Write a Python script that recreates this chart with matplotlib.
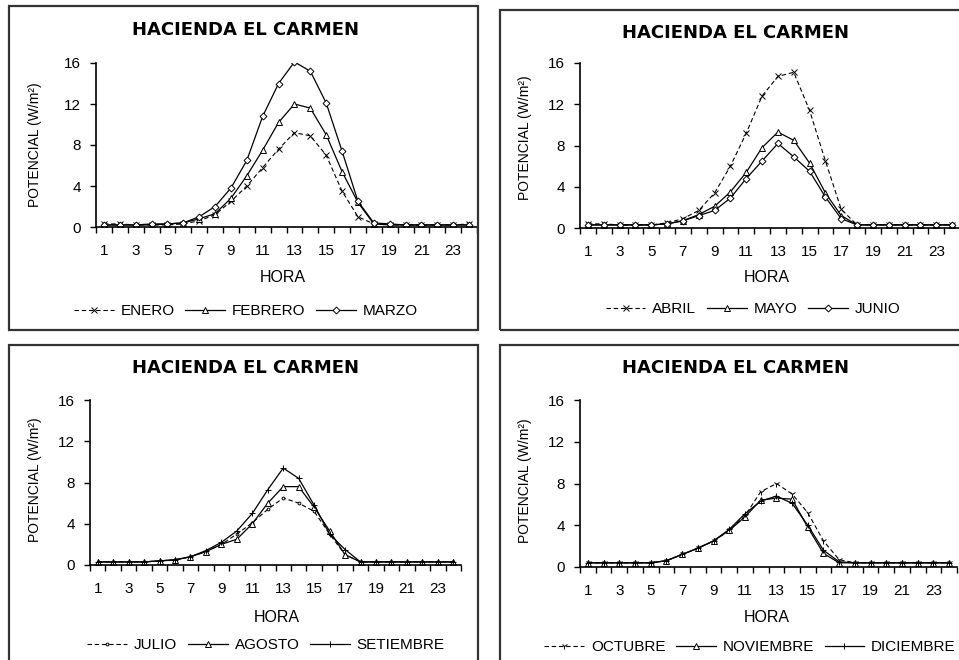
import matplotlib
matplotlib.use('Agg')
import matplotlib.pyplot as plt
from matplotlib.patches import Rectangle

plt.rcParams['font.family'] = ['Liberation Sans', 'DejaVu Sans']

# ---------------- data ----------------
HORAS = list(range(1, 25))
XTICK_LABELS = [str(h) for h in range(1, 24, 2)]
YTICKS = [0, 4, 8, 12, 16]
TITLE = 'HACIENDA EL CARMEN'
XLABEL = 'HORA'
YLABEL = 'POTENCIAL (W/m²)'

ENERO = [0.3, 0.3, 0.2, 0.2, 0.2, 0.3, 0.6, 1.2, 2.5, 4.0, 5.8, 7.6, 9.2, 8.9, 7.0, 3.5, 1.0, 0.3, 0.2, 0.2, 0.2, 0.2, 0.2, 0.3]
FEBRERO = [0.2, 0.2, 0.2, 0.2, 0.3, 0.4, 0.8, 1.3, 2.8, 5.0, 7.5, 10.2, 12.0, 11.6, 9.0, 5.4, 2.4, 0.3, 0.2, 0.2, 0.2, 0.2, 0.2, 0.2]
MARZO = [0.2, 0.2, 0.2, 0.3, 0.3, 0.4, 1.0, 2.0, 3.8, 6.5, 10.8, 14.0, 16.1, 15.2, 12.1, 7.4, 2.5, 0.4, 0.3, 0.2, 0.2, 0.2, 0.2, 0.2]

ABRIL = [0.4, 0.4, 0.3, 0.3, 0.3, 0.5, 0.9, 1.7, 3.4, 6.0, 9.2, 12.8, 14.7, 15.1, 11.4, 6.5, 1.8, 0.3, 0.3, 0.3, 0.3, 0.3, 0.3, 0.3]
MAYO = [0.3, 0.3, 0.3, 0.3, 0.3, 0.4, 0.7, 1.3, 2.1, 3.5, 5.4, 7.8, 9.3, 8.5, 6.3, 3.4, 1.2, 0.3, 0.3, 0.3, 0.3, 0.3, 0.3, 0.3]
JUNIO = [0.3, 0.3, 0.3, 0.3, 0.3, 0.4, 0.7, 1.2, 1.7, 2.9, 4.8, 6.5, 8.2, 6.9, 5.5, 3.0, 0.9, 0.3, 0.3, 0.3, 0.3, 0.3, 0.3, 0.3]

JULIO = [0.3, 0.3, 0.3, 0.3, 0.4, 0.5, 0.8, 1.3, 2.0, 3.0, 4.1, 5.4, 6.5, 6.0, 5.2, 3.0, 1.0, 0.3, 0.3, 0.3, 0.3, 0.3, 0.3, 0.3]
AGOSTO = [0.3, 0.3, 0.3, 0.3, 0.4, 0.5, 0.8, 1.3, 2.0, 2.5, 4.0, 6.0, 7.6, 7.6, 5.6, 3.3, 1.0, 0.3, 0.3, 0.3, 0.3, 0.3, 0.3, 0.3]
SETIEMBRE = [0.3, 0.3, 0.3, 0.3, 0.4, 0.5, 0.8, 1.4, 2.2, 3.3, 5.0, 7.3, 9.4, 8.4, 5.8, 3.0, 1.5, 0.3, 0.3, 0.3, 0.3, 0.3, 0.3, 0.3]

OCTUBRE = [0.4, 0.4, 0.4, 0.4, 0.4, 0.6, 1.2, 1.8, 2.5, 3.5, 4.9, 7.2, 8.0, 7.0, 5.2, 2.5, 0.7, 0.4, 0.4, 0.4, 0.4, 0.4, 0.4, 0.4]
NOVIEMBRE = [0.4, 0.4, 0.4, 0.4, 0.4, 0.6, 1.2, 1.8, 2.5, 3.5, 4.8, 6.4, 6.6, 6.5, 3.8, 1.3, 0.4, 0.4, 0.4, 0.4, 0.4, 0.4, 0.4, 0.4]
DICIEMBRE = [0.4, 0.4, 0.4, 0.4, 0.4, 0.6, 1.2, 1.8, 2.5, 3.6, 5.1, 6.3, 6.8, 6.1, 4.0, 1.6, 0.5, 0.4, 0.4, 0.4, 0.4, 0.4, 0.4, 0.4]

# ---------------- layout / styles ----------------
W, H = 959, 660


def fx(x):
    return x / W


def fy(y):
    return 1 - y / H


DASH = dict(color='black', lw=0.8, ls=(0, (4, 2.5)))
SOLID = dict(color='black', lw=0.9, ls='-')

panels = [
    dict(series=[('ENERO', ENERO, DASH, 'x'), ('FEBRERO', FEBRERO, SOLID, '^'), ('MARZO', MARZO, SOLID, 'D')],
         ax=(96, 227, 381, 164), box=(9, 6, 478, 330), title=(245, 30), xlab=(283, 277), ylab=(35, 145),
         leg=(246, 311)),
    dict(series=[('ABRIL', ABRIL, DASH, 'x'), ('MAYO', MAYO, SOLID, '^'), ('JUNIO', JUNIO, SOLID, 'D')],
         ax=(580, 228, 380, 165), box=(500, 10, 965, 330), title=(735, 33), xlab=(767, 277), ylab=(525, 138),
         leg=(753, 309)),
    dict(series=[('JULIO', JULIO, DASH, '.'), ('AGOSTO', AGOSTO, SOLID, '^'), ('SETIEMBRE', SETIEMBRE, SOLID, '+')],
         ax=(90, 565, 371, 165), box=(9, 345, 478, 665), title=(245, 368), xlab=(277, 617), ylab=(35, 480),
         leg=(266, 645)),
    dict(series=[('OCTUBRE', OCTUBRE, DASH, '1'), ('NOVIEMBRE', NOVIEMBRE, SOLID, '^'), ('DICIEMBRE', DICIEMBRE, SOLID, '+')],
         ax=(580, 567, 377, 167), box=(500, 345, 965, 665), title=(735, 368), xlab=(767, 618), ylab=(525, 481),
         leg=(750, 647)),
]

fig = plt.figure(figsize=(W / 100, H / 100), dpi=100)
fig.patch.set_facecolor('white')

for p in panels:
    x0, y0, x1, y1 = p['box']
    fig.patches.append(Rectangle((fx(x0), fy(y1)), fx(x1 - x0), (y1 - y0) / H, transform=fig.transFigure,
                                 fill=False, edgecolor='#333333', lw=1.6, zorder=0))
    axl, axb, axw, axh = p['ax']
    ax = fig.add_axes([fx(axl), fy(axb), axw / W, axh / H])
    handles = []
    for name, vals, st, mk in p['series']:
        ms = 4.5
        if mk == 'D':
            ms = 3.5
        elif mk == '.':
            ms = 4
        h, = ax.plot(HORAS, vals, marker=mk, ms=ms, mfc='white', mec='black', mew=0.7, label=name, **st)
        handles.append(h)
    ax.set_xlim(0.5, 24.5)
    ax.set_ylim(0, 16)
    ax.set_yticks(YTICKS)
    ax.set_xticks(list(range(1, 24, 2)))
    ax.set_xticklabels(XTICK_LABELS)
    ax.set_xticks([i + 0.5 for i in range(0, 25)], minor=True)
    ax.tick_params(axis='x', which='major', length=0, pad=12, labelsize=11)
    ax.tick_params(axis='x', which='minor', length=4, width=1, direction='out')
    ax.tick_params(axis='y', which='major', length=4, width=1, direction='out', labelsize=11, pad=7)
    for s in ('top', 'right'):
        ax.spines[s].set_visible(False)
    for s in ('left', 'bottom'):
        ax.spines[s].set_linewidth(1.2)
    ax.set_facecolor('none')
    fig.text(fx(p['title'][0]), fy(p['title'][1]), TITLE, ha='center', va='center', fontsize=13,
             fontweight='bold', family=['DejaVu Sans'])
    fig.text(fx(p['xlab'][0]), fy(p['xlab'][1]), XLABEL, ha='center', va='center', fontsize=11.5)
    fig.text(fx(p['ylab'][0]), fy(p['ylab'][1]), YLABEL, ha='center', va='center', fontsize=10,
             rotation=90)
    fig.legend(handles=handles, loc='center', bbox_to_anchor=(fx(p['leg'][0]), fy(p['leg'][1])), ncol=3,
               frameon=False, fontsize=11, handlelength=2.6, handletextpad=0.45, columnspacing=0.7,
               borderaxespad=0, borderpad=0)

fig.savefig('out.png', dpi=100)
